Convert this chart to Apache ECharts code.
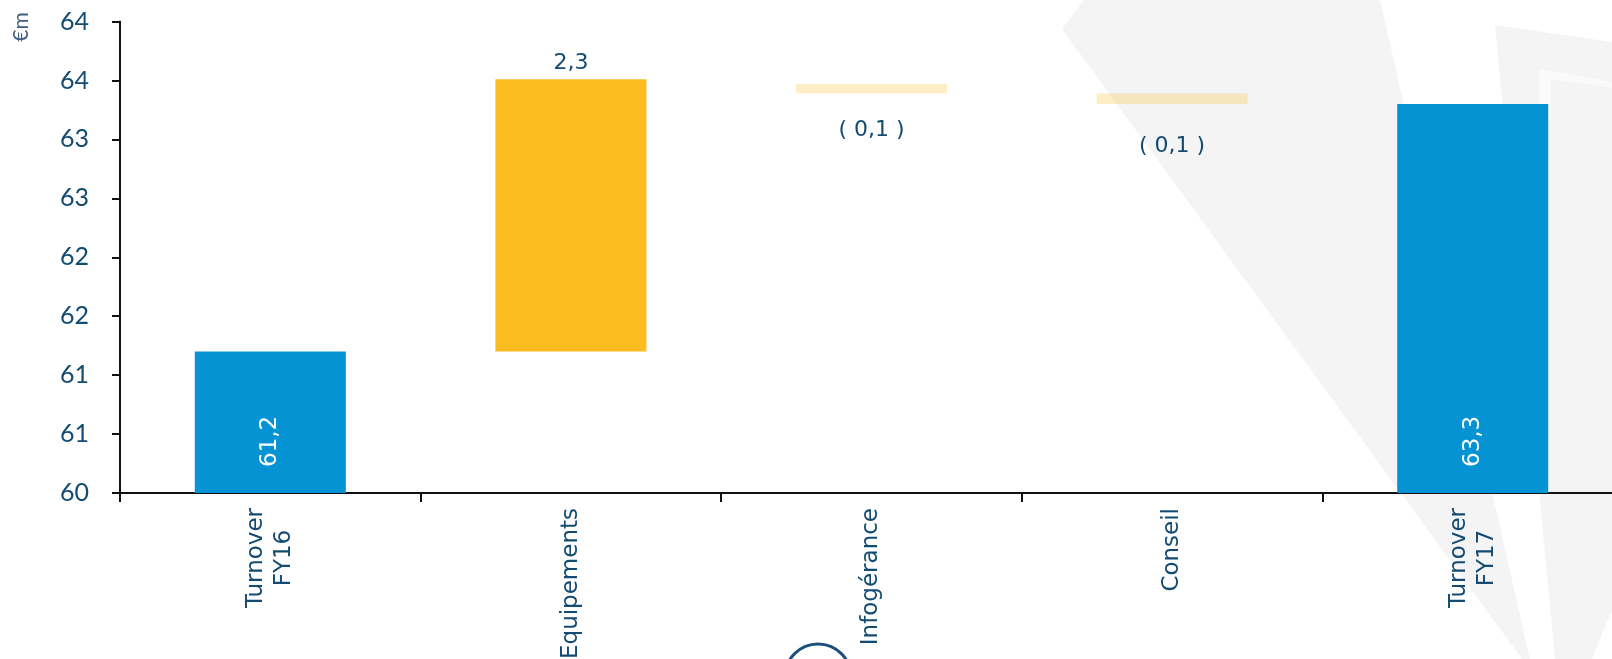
<!DOCTYPE html>
<html>
<head>
<meta charset="utf-8">
<script src="https://cdn.jsdelivr.net/npm/echarts@6/dist/echarts.min.js"></script>
<style>
html,body{margin:0;padding:0;background:#fff;}
#chart{width:1612px;height:659px;}
</style>
</head>
<body>
<div id="chart"></div>
<script>
// ---- data ----
const categories = ['Turnover\nFY16', 'Equipements', 'Infogérance', 'Conseil', 'Turnover\nFY17'];
const barLow  = [0,    61.2,  63.39, 63.30, 0];     // bottom of each floating bar
const barHigh = [61.2, 63.51, 63.47, 63.39, 63.3];  // top of each floating bar
const barKind = ['total', 'up', 'down', 'down', 'total'];
const valueLabels = ['61,2', '2,3', '( 0,1 )', '( 0,1 )', '63,3'];
const yTickLabels = ['60', '61', '61', '62', '62', '63', '63', '64', '64'];

// ---- styles ----
const DARK = '#134B72';
const kindColor = { total: '#0693D4', up: '#FBBC1F', down: 'rgba(251,188,31,0.25)' };
const fontCat = 'DejaVu Sans';

function labelFor(i) {
  const k = barKind[i];
  if (k === 'total') {
    return { show: true, position: 'insideBottom', distance: 26, rotate: 90,
      align: 'left', verticalAlign: 'middle', color: '#fff',
      fontFamily: fontCat, fontSize: 23 };
  }
  if (k === 'up') {
    return { show: true, position: 'top', distance: 5, color: DARK,
      fontFamily: fontCat, fontSize: 22 };
  }
  return { show: true, position: 'bottom', distance: i === 2 ? 26 : 31, color: DARK,
    fontFamily: fontCat, fontSize: 22 };
}

const chart = echarts.init(document.getElementById('chart'), null, { renderer: 'canvas' });
chart.setOption({
  backgroundColor: '#ffffff',
  animation: false,
  graphic: [
    { type: 'polygon', z: -10, silent: true,
      shape: { points: [[1062,29],[1084,0],[1380,0],[1530,659],[1522,659]] },
      style: { fill: '#F4F4F4' } },
    { type: 'polygon', z: -10, silent: true,
      shape: { points: [[1495,25],[1612,42],[1612,610],[1592,659],[1555,659]] },
      style: { fill: '#F4F4F4' } },
    { type: 'polygon', z: -9, silent: true,
      shape: { points: [[1539,69],[1612,82],[1612,88],[1551,79],[1551,120],[1539,120]] },
      style: { fill: '#FAFAFA' } },
    { type: 'circle', z: -5, silent: true,
      shape: { cx: 818, cy: 677, r: 33 },
      style: { fill: 'none', stroke: '#1C4F7C', lineWidth: 3 } },
    { type: 'text', silent: true, x: 21, y: 27, rotation: Math.PI / 2,
      style: { text: '€m', fill: '#3E5F7F', font: '21px Lato', align: 'center', verticalAlign: 'middle' } }
  ],
  grid: { left: 120, top: 21.5, width: 1503, bottom: 166, containLabel: false, outerBoundsMode: 'none' },
  xAxis: {
    type: 'category',
    data: categories,
    axisLine: { show: true, lineStyle: { color: '#111', width: 2 } },
    axisTick: { show: true, length: 9, lineStyle: { color: '#111', width: 2 } },
    axisLabel: {
      rotate: 90, margin: 15, color: DARK, fontFamily: fontCat, fontSize: 23,
      lineHeight: 28,
      formatter: function (v) {
        return v.split('\n').map(function (s) { return '{c|' + s + '}'; }).join('\n');
      },
      rich: { c: { align: 'center', color: DARK, fontFamily: fontCat, fontSize: 23, lineHeight: 28 } }
    },
    splitLine: { show: false }
  },
  yAxis: {
    type: 'value',
    min: 60, max: 64, interval: 0.5,
    axisLine: { show: true, lineStyle: { color: '#111', width: 2 } },
    axisTick: { show: true, length: 8, lineStyle: { color: '#111', width: 2 } },
    axisLabel: {
      margin: 31, color: DARK, fontFamily: 'Lato', fontSize: 25,
      formatter: function (v, idx) { return yTickLabels[idx]; }
    },
    splitLine: { show: false }
  },
  series: [
    {
      type: 'bar', stack: 'wf', barWidth: 151, clip: true, silent: true,
      itemStyle: { color: 'rgba(0,0,0,0)' },
      data: barLow
    },
    {
      type: 'bar', stack: 'wf', barWidth: 151, clip: true,
      label: { formatter: function (p) { return valueLabels[p.dataIndex]; } },
      data: barHigh.map(function (h, i) {
        return {
          value: +(h - barLow[i]).toFixed(2),
          itemStyle: { color: kindColor[barKind[i]] },
          label: labelFor(i)
        };
      })
    }
  ]
});
</script>
</body>
</html>
